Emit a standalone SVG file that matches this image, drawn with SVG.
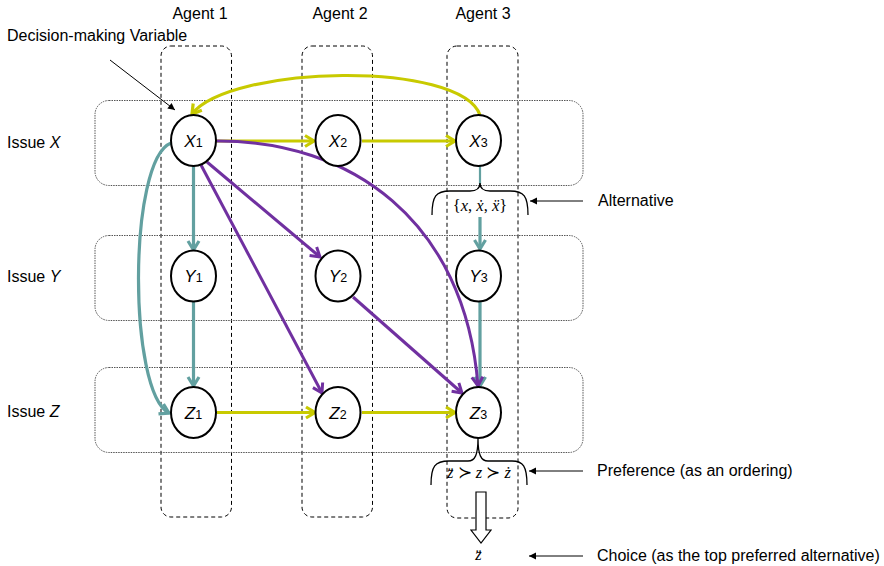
<svg xmlns="http://www.w3.org/2000/svg" width="884" height="566" viewBox="0 0 884 566">
<style>
.lbl{font-family:"Liberation Sans",Arial,sans-serif;font-size:16px;fill:#000}
.ann{font-family:"Liberation Sans",Arial,sans-serif;font-size:16px;fill:#000}
.math{font-family:"Liberation Serif","DejaVu Serif",serif;font-size:16.5px;fill:#000}
.nt{font-family:"Liberation Sans",Arial,sans-serif;font-size:17px;font-style:italic;fill:#000;text-anchor:middle}
.nt tspan.s{font-style:normal;font-size:12.5px}
.agent{fill:none;stroke:#000;stroke-width:1;stroke-dasharray:4 3}
.issue{fill:none;stroke:#555;stroke-width:1;stroke-dasharray:1.5 1}
.node{fill:#fff;stroke:#000;stroke-width:2}
.y{fill:none;stroke:#c8ca00;stroke-width:3.2;marker-end:url(#ay)}
.t{fill:none;stroke:#62a0a0;stroke-width:3.2;marker-end:url(#at)}
.p{fill:none;stroke:#7030a0;stroke-width:3;marker-end:url(#ap)}
.k{fill:none;stroke:#000;stroke-width:1;marker-end:url(#ak)}
.br{fill:none;stroke:#000;stroke-width:1.3}
</style>
<defs>
<marker id="ay" markerUnits="userSpaceOnUse" markerWidth="16" markerHeight="16" refX="12" refY="8" orient="auto"><path d="M3,2.5 L12,8 L3,13.5" fill="none" stroke="#c8ca00" stroke-width="3.2"/></marker>
<marker id="at" markerUnits="userSpaceOnUse" markerWidth="16" markerHeight="16" refX="12" refY="8" orient="auto"><path d="M3,2.5 L12,8 L3,13.5" fill="none" stroke="#62a0a0" stroke-width="3.2"/></marker>
<marker id="ap" markerUnits="userSpaceOnUse" markerWidth="16" markerHeight="16" refX="12" refY="8" orient="auto"><path d="M3,2.5 L12,8 L3,13.5" fill="none" stroke="#7030a0" stroke-width="3"/></marker>
<marker id="ak" markerUnits="userSpaceOnUse" markerWidth="10" markerHeight="10" refX="8" refY="5" orient="auto"><path d="M1,1.5 L8,5 L1,8.5 Z" fill="#000"/></marker>
</defs>

<g id="agents">
<rect class="agent" x="161" y="46" width="70.5" height="471" rx="10"/>
<rect class="agent" x="302" y="46" width="70.5" height="471" rx="10"/>
<rect class="agent" x="447" y="46" width="71" height="472" rx="10"/>
<text class="lbl" x="200" y="19" text-anchor="middle">Agent 1</text>
<text class="lbl" x="340" y="19" text-anchor="middle">Agent 2</text>
<text class="lbl" x="483" y="19" text-anchor="middle">Agent 3</text>
</g>

<g id="issues">
<rect class="issue" x="95" y="100.5" width="488" height="85" rx="14"/>
<rect class="issue" x="95" y="235.5" width="488" height="85" rx="14"/>
<rect class="issue" x="95" y="367.5" width="488" height="85" rx="14"/>
<text class="lbl" x="7" y="148">Issue <tspan font-style="italic">X</tspan></text>
<text class="lbl" x="7" y="282">Issue <tspan font-style="italic">Y</tspan></text>
<text class="lbl" x="7" y="417">Issue <tspan font-style="italic">Z</tspan></text>
</g>

<g id="connectors">
<path class="y" d="M217,141 L314,141"/>
<path class="y" d="M362,141 L455,141"/>
<path class="y" d="M217,412.5 L315,412.5"/>
<path class="y" d="M362,412.5 L455,412.5"/>
<path class="y" d="M480,115 C460,60 230,65 192,114"/>
<path class="t" d="M193.5,166 L193.5,250"/>
<path class="t" d="M193.5,302 L193.5,386"/>
<path fill="none" stroke="#62a0a0" stroke-width="2.2" d="M480,166 L480,184"/>
<path class="t" d="M480,217 L480,249"/>
<path class="t" d="M480,302 L480,386"/>
<path class="t" d="M171,143 C128,160 128,392 169,413"/>
<path class="p" d="M207,162 L320,257"/>
<path class="p" d="M201,165 L322,393"/>
<path class="p" d="M216,141 C350,140 465,220 478,386"/>
<path class="p" d="M353,297 L462,393"/>
<path class="k" d="M110,60 L175,110"/>
<path class="k" d="M583,201 L530,201"/>
<path class="k" d="M583,471 L529,471"/>
<path class="k" d="M583,556 L529,556"/>
</g>

<g id="X1"><ellipse class="node" cx="193.5" cy="140.5" rx="22.5" ry="25.5"/><text class="nt" x="193.5" y="147">X<tspan class="s">1</tspan></text></g>
<g id="X2"><ellipse class="node" cx="338" cy="140.5" rx="22.5" ry="25.5"/><text class="nt" x="338" y="147">X<tspan class="s">2</tspan></text></g>
<g id="X3"><ellipse class="node" cx="478.5" cy="140.5" rx="22.5" ry="25.5"/><text class="nt" x="478.5" y="147">X<tspan class="s">3</tspan></text></g>
<g id="Y1"><ellipse class="node" cx="193.5" cy="276" rx="22.5" ry="25.5"/><text class="nt" x="193.5" y="282">Y<tspan class="s">1</tspan></text></g>
<g id="Y2"><ellipse class="node" cx="338" cy="276" rx="22.5" ry="25.5"/><text class="nt" x="338" y="282">Y<tspan class="s">2</tspan></text></g>
<g id="Y3"><ellipse class="node" cx="478.5" cy="276" rx="22.5" ry="25.5"/><text class="nt" x="478.5" y="282">Y<tspan class="s">3</tspan></text></g>
<g id="Z1"><ellipse class="node" cx="193.5" cy="412.5" rx="22.5" ry="25.5"/><text class="nt" x="193.5" y="419">Z<tspan class="s">1</tspan></text></g>
<g id="Z2"><ellipse class="node" cx="338" cy="412.5" rx="22.5" ry="25.5"/><text class="nt" x="338" y="419">Z<tspan class="s">2</tspan></text></g>
<g id="Z3"><ellipse class="node" cx="478.5" cy="412.5" rx="22.5" ry="25.5"/><text class="nt" x="478.5" y="419">Z<tspan class="s">3</tspan></text></g>

<g id="alternative">
<path class="br" d="M432,215 C432,196 436,191 450,191 L470,191 C477,191 480,188 480,183 C480,188 483,191 490,191 L510,191 C524,191 528,196 528,215"/>
<text class="math" x="480" y="211" text-anchor="middle">{<tspan font-style="italic">x</tspan>, <tspan font-style="italic">ẋ</tspan>, <tspan font-style="italic">ẍ</tspan>}</text>
</g>

<g id="preference">
<path class="br" d="M431,485 C431,466 435,461 449,461 L468,461 C475,461 478,455 478,438 C478,455 481,461 488,461 L512,461 C523,461 527,466 527,485"/>
<text class="math" x="479" y="478" text-anchor="middle"><tspan font-style="italic">z̈</tspan> ≻ <tspan font-style="italic">z</tspan> ≻ <tspan font-style="italic">ż</tspan></text>
</g>

<g id="choice">
<polygon points="476,492 486,492 486,530 491,530 481,543 471,530 476,530" fill="#fff" stroke="#000" stroke-width="1.2"/>
<text class="math" x="478.5" y="560" text-anchor="middle" font-style="italic">z̈</text>
</g>

<g id="annotations">
<text class="lbl" x="7" y="41">Decision-making Variable</text>
<text class="ann" x="598" y="206">Alternative</text>
<text class="ann" x="597" y="476">Preference (as an ordering)</text>
<text class="ann" x="597" y="561">Choice (as the top preferred alternative)</text>
</g>
</svg>
